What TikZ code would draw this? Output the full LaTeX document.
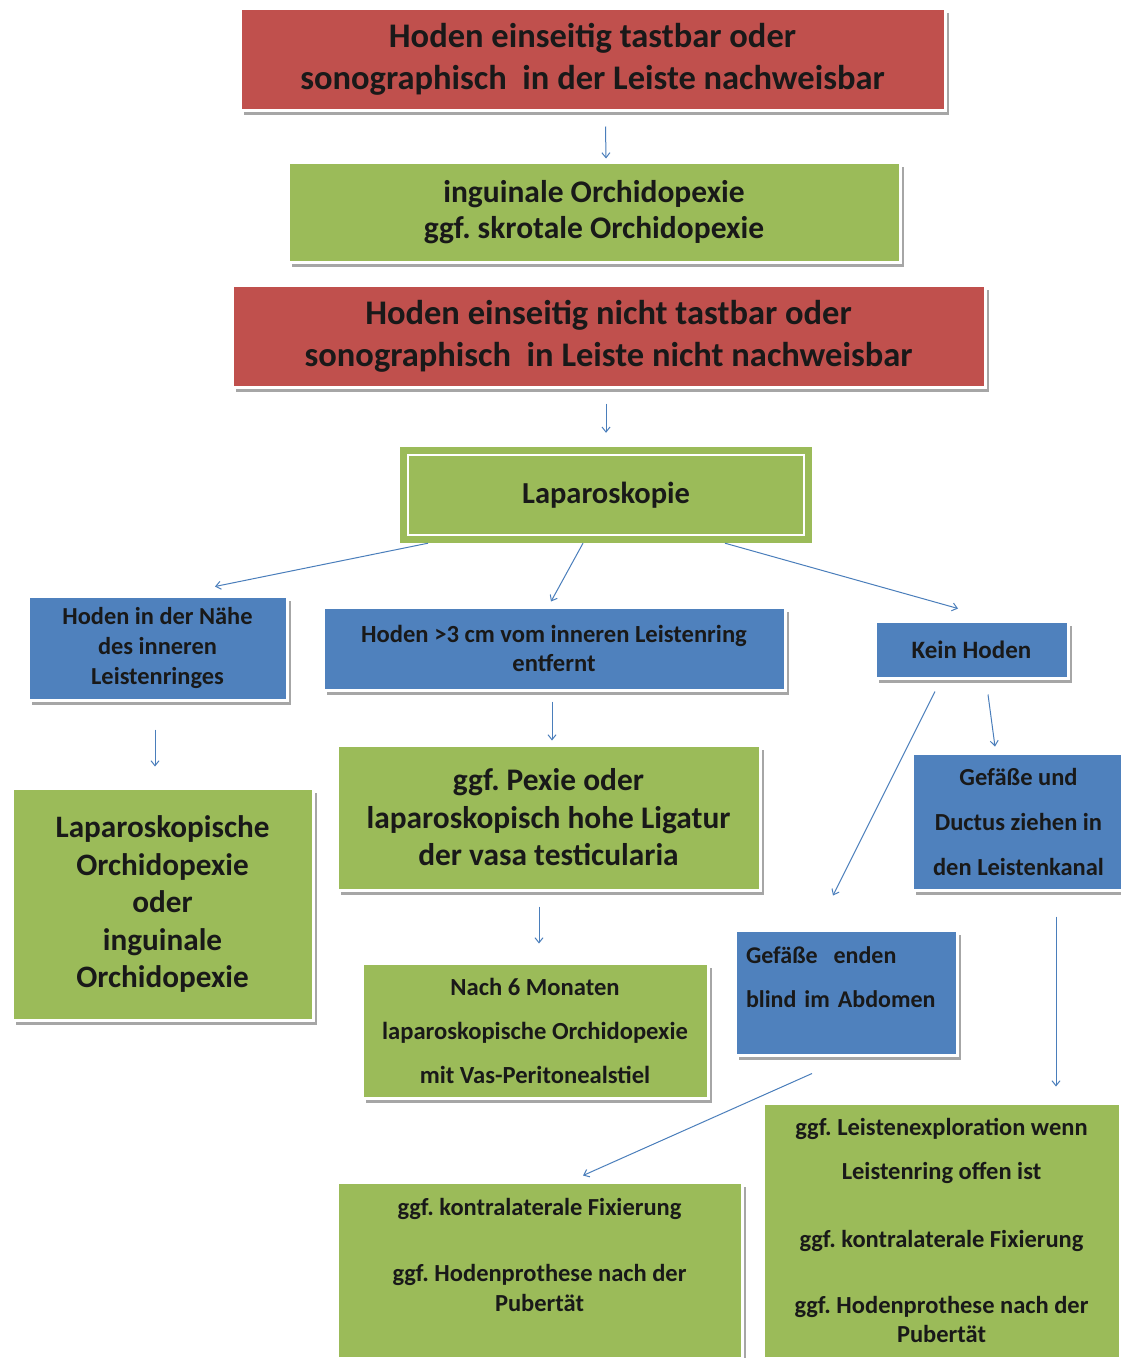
\documentclass[tikz,border=0pt]{standalone}
\usepackage{fontspec}
\setmainfont{Carlito}
\usepackage{xcolor}
\usetikzlibrary{arrows.meta,shadows}
\frenchspacing

\definecolor{boxred}{RGB}{192,80,77}
\definecolor{boxgreen}{RGB}{155,187,89}
\definecolor{boxblue}{RGB}{79,129,189}
\definecolor{arrowblue}{RGB}{74,126,187}

\begin{document}
\begin{tikzpicture}[x=1pt, y=-1pt,
    box/.style={rectangle, draw=white, line width=3pt, text=black!90, align=center, inner sep=2pt,
        drop shadow={shadow xshift=4pt, shadow yshift=-5pt, fill=black, opacity=0.35}},
    redbox/.style={box, fill=boxred},
    greenbox/.style={box, fill=boxgreen},
    bluebox/.style={box, fill=boxblue},
    arr/.style={-{Straight Barb[length=5pt,width=8pt]}, arrowblue, line width=1pt}]

    % Page
    \useasboundingbox[fill=white] (0,0) rectangle (1120,1358);

    % Top of the chart
    \node[redbox, minimum width=705pt, minimum height=102pt, font=\bfseries\fontsize{34.5}{42}\selectfont]
        (tastbar) at (592.5,59) {Hoden einseitig tastbar oder\\sonographisch~ in der Leiste nachweisbar};
    \node[greenbox, minimum width=612pt, minimum height=100pt, font=\bfseries\fontsize{31.5}{36}\selectfont]
        (inguinal) at (594,212) {inguinale Orchidopexie\\ggf. skrotale Orchidopexie};
    \node[redbox, minimum width=753pt, minimum height=102pt, font=\bfseries\fontsize{34.5}{42}\selectfont]
        (nichttastbar) at (608.5,336) {Hoden einseitig nicht tastbar oder\\sonographisch~ in Leiste nicht nachweisbar};
    \node[rectangle, fill=boxgreen, minimum width=412pt, minimum height=96pt, text=black!90,
        font=\bfseries\fontsize{30.5}{32}\selectfont] (lap) at (606,495) {Laparoskopie};
    \draw[white, line width=2.5pt] ([shift={(8pt,-8pt)}]lap.north west) rectangle ([shift={(-8pt,8pt)}]lap.south east);

    % Findings
    \node[bluebox, minimum width=259pt, minimum height=104pt, font=\bfseries\fontsize{24.4}{30}\selectfont]
        (naehe) at (157.5,648) {Hoden in der Nähe\\des inneren\\Leistenringes};
    \node[bluebox, minimum width=462pt, minimum height=83pt, font=\bfseries\fontsize{24.6}{29}\selectfont]
        (entfernt) at (554,648.5) {Hoden >3 cm vom inneren Leistenring\\entfernt};
    \node[bluebox, minimum width=193pt, minimum height=57pt, font=\bfseries\fontsize{25}{29}\selectfont]
        (kein) at (971.5,649.5) {Kein Hoden};

    % Treatment
    \node[greenbox, minimum width=301pt, minimum height=232pt, font=\bfseries\fontsize{31.2}{37.5}\selectfont]
        (lapor) at (162.5,904) {Laparoskopische\\Orchidopexie\\oder\\inguinale\\Orchidopexie};
    \node[greenbox, minimum width=423pt, minimum height=145pt, font=\bfseries\fontsize{31.4}{37.5}\selectfont]
        (pexie) at (548.5,817.5) {ggf. Pexie oder\\laparoskopisch hohe Ligatur\\der vasa testicularia};
    \node[greenbox, minimum width=346pt, minimum height=135pt, font=\bfseries\fontsize{24.6}{44}\selectfont]
        (monate) at (535,1030.5) {Nach 6 Monaten\\laparoskopische Orchidopexie\\mit Vas-Peritonealstiel};
    \node[bluebox, minimum width=213pt, minimum height=137pt, font=\bfseries\fontsize{24.5}{45}\selectfont]
        (ductus) at (1018.5,821.5) {Gefäße und\\Ductus ziehen in\\den Leistenkanal};
    \node[bluebox, minimum width=222pt, minimum height=125pt, text width=200pt, align=left,
        font=\bfseries\fontsize{24}{44}\selectfont]
        (blind) at (846,992.5) {Gefäße\ \ enden\\blind im Abdomen\\[-14pt]~};
    \node[greenbox, minimum width=405pt, minimum height=176pt, font=\bfseries\fontsize{24.5}{30}\selectfont]
        (fixleft) at (539.5,1270) {ggf. kontralaterale Fixierung\\[36pt]ggf. Hodenprothese nach der\\Pubertät\\~};
    \node[greenbox, minimum width=357pt, minimum height=255pt, font=\bfseries\fontsize{24.5}{29}\selectfont]
        (fixright) at (941.5,1230.5) {ggf. Leistenexploration wenn\\[15pt]Leistenring offen ist\\[39pt]ggf. kontralaterale Fixierung\\[37pt]ggf. Hodenprothese nach der\\Pubertät};

    % Draw arrows
    \draw[arr] ([xshift=13pt,yshift=-15pt]tastbar.south) -- ([xshift=12pt,yshift=2pt]inguinal.north);
    \draw[arr] ([xshift=-2.5pt,yshift=-15pt]nichttastbar.south) -- ([yshift=14pt]lap.north);
    \draw[arr] ([xshift=-178pt]lap.south) -- ([xshift=57.5pt,yshift=8pt]naehe.north);
    \draw[arr] ([xshift=-23pt]lap.south) -- ([xshift=-3pt,yshift=4pt]entfernt.north);
    \draw[arr] ([xshift=119pt]lap.south) -- ([xshift=-13.5pt,yshift=11pt]kein.north);
    \draw[arr] ([xshift=-2.5pt,yshift=-28pt]naehe.south) -- ([xshift=-7.5pt,yshift=20pt]lapor.north);
    \draw[arr] ([xshift=-2pt,yshift=-10pt]entfernt.south) -- ([xshift=3.5pt,yshift=3pt]pexie.north);
    \draw[arr] ([xshift=-9.5pt,yshift=-15pt]pexie.south) -- ([xshift=4pt,yshift=18pt]monate.north);
    \draw[arr] ([xshift=-36.5pt,yshift=-12pt]kein.south) -- ([xshift=-13pt,yshift=33pt]blind.north);
    \draw[arr] ([xshift=16.5pt,yshift=-15pt]kein.south) -- ([xshift=-23.5pt,yshift=5pt]ductus.north);
    \draw[arr] ([xshift=37.5pt,yshift=-25pt]ductus.south) -- ([xshift=114.5pt,yshift=15pt]fixright.north);
    \draw[arr] ([xshift=-34pt,yshift=-17pt]blind.south) -- ([xshift=43.5pt,yshift=5pt]fixleft.north);
\end{tikzpicture}
\end{document}
